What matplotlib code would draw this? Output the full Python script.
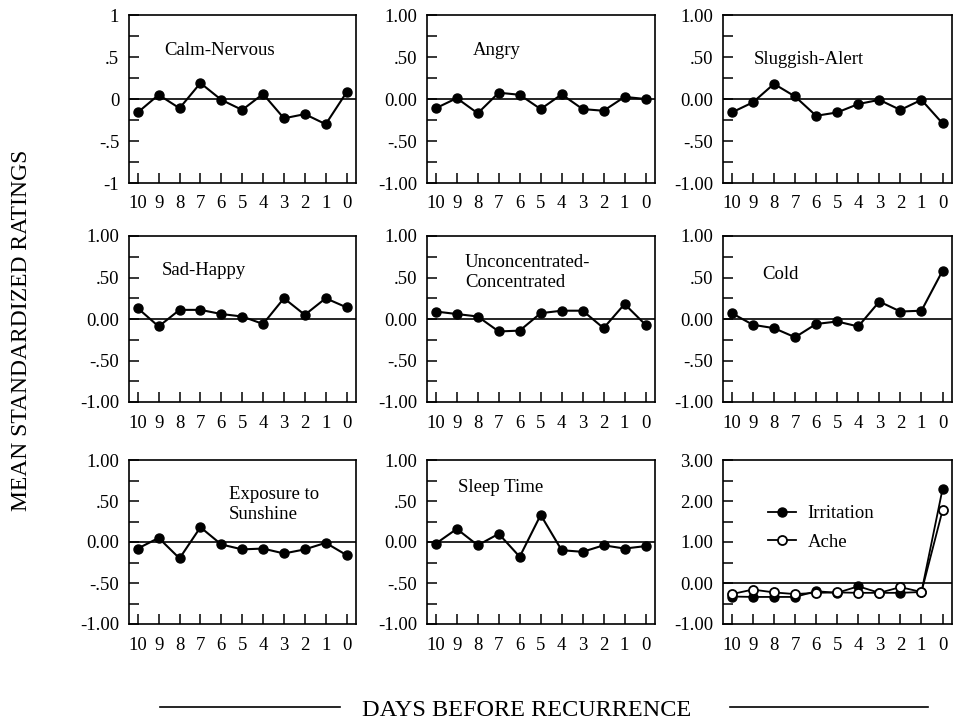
import matplotlib
matplotlib.use("Agg")
import matplotlib.pyplot as plt
from matplotlib.ticker import FixedLocator, FixedFormatter, MultipleLocator
from matplotlib.lines import Line2D

plt.rcParams['font.family'] = ['Liberation Serif', 'DejaVu Serif']

days = [10, 9, 8, 7, 6, 5, 4, 3, 2, 1, 0]

calm_nervous = [-0.16, 0.05, -0.11, 0.19, -0.01, -0.13, 0.06, -0.23, -0.18, -0.30, 0.08]
angry = [-0.11, 0.01, -0.17, 0.075, 0.05, -0.12, 0.055, -0.12, -0.14, 0.025, 0.0]
sluggish_alert = [-0.16, -0.04, 0.18, 0.03, -0.20, -0.16, -0.06, -0.01, -0.13, -0.01, -0.29]
sad_happy = [0.13, -0.09, 0.11, 0.11, 0.06, 0.03, -0.06, 0.25, 0.05, 0.25, 0.14]
unconcentrated = [0.09, 0.06, 0.03, -0.15, -0.14, 0.07, 0.10, 0.10, -0.11, 0.18, -0.07]
cold = [0.07, -0.07, -0.11, -0.22, -0.06, -0.03, -0.09, 0.21, 0.09, 0.10, 0.58]
sunshine = [-0.08, 0.05, -0.20, 0.18, -0.03, -0.09, -0.08, -0.14, -0.09, -0.01, -0.16]
sleep_time = [-0.02, 0.16, -0.04, 0.10, -0.18, 0.33, -0.10, -0.12, -0.04, -0.08, -0.05]
irritation = [-0.33, -0.34, -0.34, -0.34, -0.20, -0.24, -0.08, -0.24, -0.24, -0.22, 2.29]
ache = [-0.27, -0.16, -0.23, -0.27, -0.24, -0.23, -0.24, -0.24, -0.10, -0.22, 1.77]

titles = ["Calm-Nervous", "Angry", "Sluggish-Alert", "Sad-Happy",
          "Unconcentrated-\nConcentrated", "Cold", "Exposure to\nSunshine", "Sleep Time"]
series = [calm_nervous, angry, sluggish_alert, sad_happy, unconcentrated, cold,
          sunshine, sleep_time]

ytick_vals = [-1, -0.5, 0, 0.5, 1]
ylabels_first = ["-1", "-.5", "0", ".5", "1"]
ylabels_std = ["-1.00", "-.50", "0.00", ".50", "1.00"]
ytick_vals_last = [-1, 0, 1, 2, 3]
ylabels_last = ["-1.00", "0.00", "1.00", "2.00", "3.00"]

W, H = 956, 725
fig = plt.figure(figsize=(W / 100, H / 100), dpi=100)

col_px = [(129, 356), (427, 655), (723, 952)]
row_px = [(15, 183), (236, 402), (460, 624)]

title_pos = [(0.157, 0.79), (0.20, 0.79), (0.135, 0.735), (0.144, 0.79),
             (0.167, 0.78), (0.17, 0.77), (0.44, 0.73), (0.137, 0.83)]

FS = 13.5

def make_ax(r, c):
    l, rr = col_px[c]
    t, b = row_px[r]
    ax = fig.add_axes([l / W, 1 - b / H, (rr - l) / W, (b - t) / H])
    ax.set_xlim(10.42, -0.45)
    ax.set_xticks(days)
    ax.set_xticklabels([str(d) for d in days])
    ax.tick_params(axis='x', direction='in', length=7, width=1.1, pad=9, labelsize=FS)
    ax.tick_params(axis='y', which='both', direction='in', length=7, width=1.1, pad=7,
                   labelsize=FS)
    for s in ax.spines.values():
        s.set_linewidth(1.2)
    ax.axhline(0, color='black', lw=1.2, zorder=1)
    return ax

for i in range(8):
    r, c = divmod(i, 3)
    ax = make_ax(r, c)
    ax.set_ylim(-1, 1)
    ax.yaxis.set_major_locator(FixedLocator(ytick_vals))
    ax.yaxis.set_major_formatter(FixedFormatter(ylabels_first if i == 0 else ylabels_std))
    ax.yaxis.set_minor_locator(MultipleLocator(0.25))
    ax.plot(days, series[i], color='black', lw=1.5, marker='o', ms=6.5, zorder=3)
    ax.text(title_pos[i][0], title_pos[i][1], titles[i], transform=ax.transAxes,
            ha='left', va='center', fontsize=FS, linespacing=1.2)

ax = make_ax(2, 2)
ax.set_ylim(-1, 3)
ax.yaxis.set_major_locator(FixedLocator(ytick_vals_last))
ax.yaxis.set_major_formatter(FixedFormatter(ylabels_last))
ax.yaxis.set_minor_locator(MultipleLocator(0.5))
ax.plot(days, irritation, color='black', lw=1.3, marker='o', ms=6.5, zorder=3,
        label='Irritation')
ax.plot(days, ache, color='black', lw=1.3, marker='o', ms=6.5, mfc='white', mew=1.3,
        zorder=4, label='Ache')
ax.legend(loc='upper left', bbox_to_anchor=(0.165, 0.77), frameon=False, fontsize=FS,
          handlelength=1.5, handletextpad=0.6, labelspacing=0.6, borderaxespad=0)

fig.text(22 / W, 1 - 330 / H, "MEAN STANDARDIZED RATINGS", rotation=90,
         ha='center', va='center', fontsize=17)
fig.text(527 / W, 1 - 711 / H, "DAYS BEFORE RECURRENCE", ha='center', va='center',
         fontsize=17.5)
fig.add_artist(Line2D([160 / W, 340 / W], [1 - 707 / H, 1 - 707 / H], color='black', lw=1.2))
fig.add_artist(Line2D([730 / W, 928 / W], [1 - 707 / H, 1 - 707 / H], color='black', lw=1.2))

fig.savefig("out.png", dpi=100)
